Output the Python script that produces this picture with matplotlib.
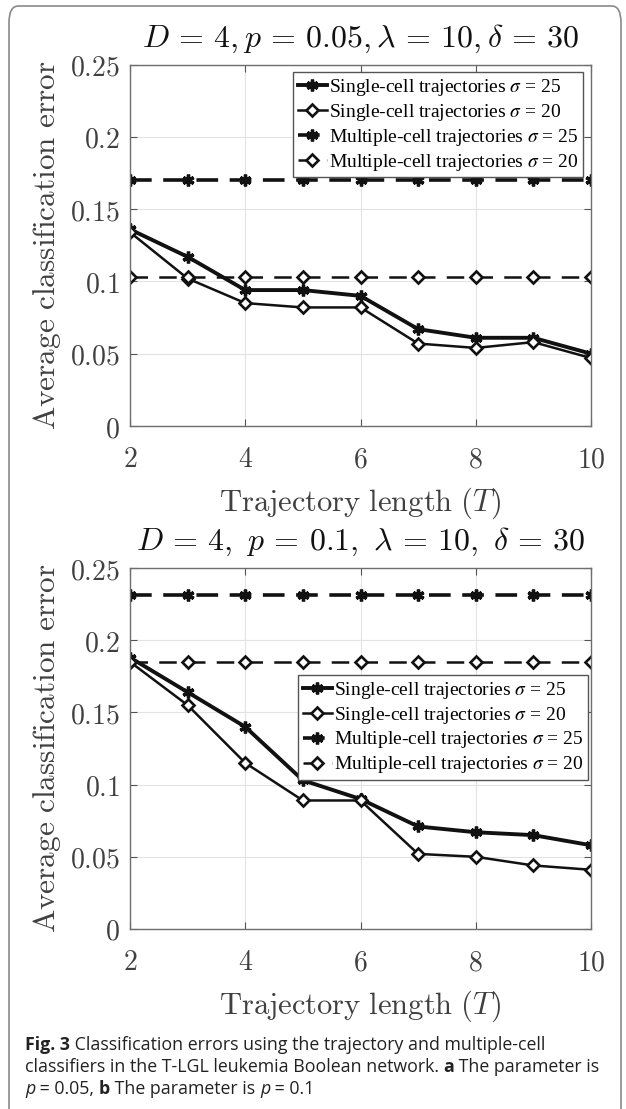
import numpy as np
import matplotlib; matplotlib.use('Agg')
import matplotlib.pyplot as plt
from matplotlib.font_manager import FontProperties
from matplotlib.patches import FancyBboxPatch

W, H = 626, 1109
T = [2, 3, 4, 5, 6, 7, 8, 9, 10]
# panel a: p = 0.05
a_single25 = [0.136, 0.117, 0.094, 0.094, 0.090, 0.067, 0.061, 0.061, 0.050]
a_single20 = [0.134, 0.102, 0.085, 0.082, 0.082, 0.057, 0.054, 0.058, 0.047]
a_multi25 = [0.170, 0.170, 0.170, 0.170, 0.170, 0.170, 0.170, 0.170, 0.170]
a_multi20 = [0.103, 0.103, 0.103, 0.103, 0.103, 0.103, 0.103, 0.103, 0.103]
# panel b: p = 0.1
b_single25 = [0.188, 0.164, 0.140, 0.103, 0.090, 0.071, 0.067, 0.065, 0.058]
b_single20 = [0.185, 0.155, 0.115, 0.089, 0.089, 0.052, 0.050, 0.044, 0.041]
b_multi25 = [0.231, 0.231, 0.231, 0.231, 0.231, 0.231, 0.231, 0.231, 0.231]
b_multi20 = [0.185, 0.185, 0.185, 0.185, 0.185, 0.185, 0.185, 0.185, 0.185]

titles = [r'$D\,=\,4, p\,=\,0.05, \lambda\,=\,10, \delta\,=\,30$',
          r'$D\,=\,4,\ p\,=\,0.1,\ \lambda\,=\,10,\ \delta\,=\,30$']
labels = [r'Single-cell trajectories $\sigma$ = 25', r'Single-cell trajectories $\sigma$ = 20',
          r'Multiple-cell trajectories $\sigma$ = 25', r'Multiple-cell trajectories $\sigma$ = 20']
xticks = [2, 4, 6, 8, 10]
yticks = [0, 0.05, 0.1, 0.15, 0.2, 0.25]
yticklabels = ['0', '0.05', '0.1', '0.15', '0.2', '0.25']
xlab = r'$\mathrm{Trajectory\ length}\ (T)$'
ylab = r'$\mathrm{Average\ classification\ error}$'

plt.rcParams['mathtext.fontset'] = 'cm'
fig = plt.figure(figsize=(W/100, H/100), dpi=100)
fig.patch.set_facecolor('white')

# outer rounded frame (open at the bottom)
fig.patches.append(FancyBboxPatch((9/W, -0.05), 612/W, 1 - 6/H + 0.05, boxstyle='round,pad=0,rounding_size=0.015',
                                  transform=fig.transFigure, fill=False, ec='#8a8a8a', lw=1.2))

def px_axes(top, bottom, left=130, right=591):
    return fig.add_axes([left/W, 1 - bottom/H, (right-left)/W, (bottom-top)/H])

axes = [px_axes(64.5, 426), px_axes(568, 929)]
data = [(a_single25, a_single20, a_multi25, a_multi20), (b_single25, b_single20, b_multi25, b_multi20)]
leg_anchor = [(0.983, 0.979), (0.994, 0.704)]
star = (6, 2, 0)
legprop = FontProperties(family='Liberation Serif', size=14, math_fontfamily='stix')

for ax, (s25, s20, m25, m20), title, anc in zip(axes, data, titles, leg_anchor):
    ax.plot(T, s25, color='#111111', lw=2.8, marker=star, ms=8.5, mew=2.4, label=labels[0])
    ax.plot(T, s20, color='#111111', lw=1.8, marker='D', ms=6.5, mew=1.9, mfc='white', label=labels[1])
    ax.plot(T, m25, color='#111111', lw=2.6, ls=(0, (6, 3.2)), marker=star, ms=8.5, mew=2.4, label=labels[2])
    ax.plot(T, m20, color='#111111', lw=1.8, ls=(0, (7, 4.5)), marker='D', ms=6.5, mew=1.9, mfc='white', label=labels[3])
    ax.set_xlim(2, 10); ax.set_ylim(0, 0.25)
    ax.set_xticks(xticks, labels=[f'${v}$' for v in xticks])
    ax.set_yticks(yticks, labels=[f'${v}$' for v in yticklabels])
    ax.tick_params(direction='in', length=5, width=0.8, color='#555555', labelsize=20, labelcolor='#404040',
                   top=True, right=True)
    ax.tick_params(axis='x', pad=14); ax.tick_params(axis='y', pad=7)
    ax.grid(True, color='#e3e3e3', lw=0.8); ax.set_axisbelow(True)
    for sp in ax.spines.values():
        sp.set_color('#6e6e6e'); sp.set_linewidth(1.0)
    ax.set_title(title, fontsize=23, pad=13, color='#111111')
    ax.set_xlabel(xlab, fontsize=22, color='#404040', labelpad=9)
    ax.set_ylabel(ylab, fontsize=22.5, color='#404040', labelpad=5)
    ax.legend(loc='upper right', bbox_to_anchor=anc, borderaxespad=0, prop=legprop, fancybox=False,
              edgecolor='#555555', framealpha=1, handlelength=1.5, handletextpad=0.1, labelspacing=0.2,
              borderpad=0.25).get_frame().set_linewidth(1.0)

# caption, pieces of (text, weight, style)
cap_lines = [
    [('Fig. 3', 'bold', 'normal'), (' Classification errors using the trajectory and multiple-cell', 'normal', 'normal')],
    [('classifiers in the T-LGL leukemia Boolean network. ', 'normal', 'normal'), ('a', 'bold', 'normal'),
     (' The parameter is', 'normal', 'normal')],
    [('p', 'normal', 'italic'), (' = 0.05, ', 'normal', 'normal'), ('b', 'bold', 'normal'),
     (' The parameter is ', 'normal', 'normal'), ('p', 'normal', 'italic'), (' = 0.1', 'normal', 'normal')],
]
cap_y = [1045, 1067, 1089]
r = fig.canvas.get_renderer()
for pieces, y in zip(cap_lines, cap_y):
    x = 25
    for s, wgt, sty in pieces:
        t = fig.text(x/W, 1 - y/H, s, fontsize=12.8, family='Open Sans', weight=wgt, style=sty,
                     va='center', ha='left', color='#222222')
        x += t.get_window_extent(r).width

fig.savefig('out.png', dpi=100)
